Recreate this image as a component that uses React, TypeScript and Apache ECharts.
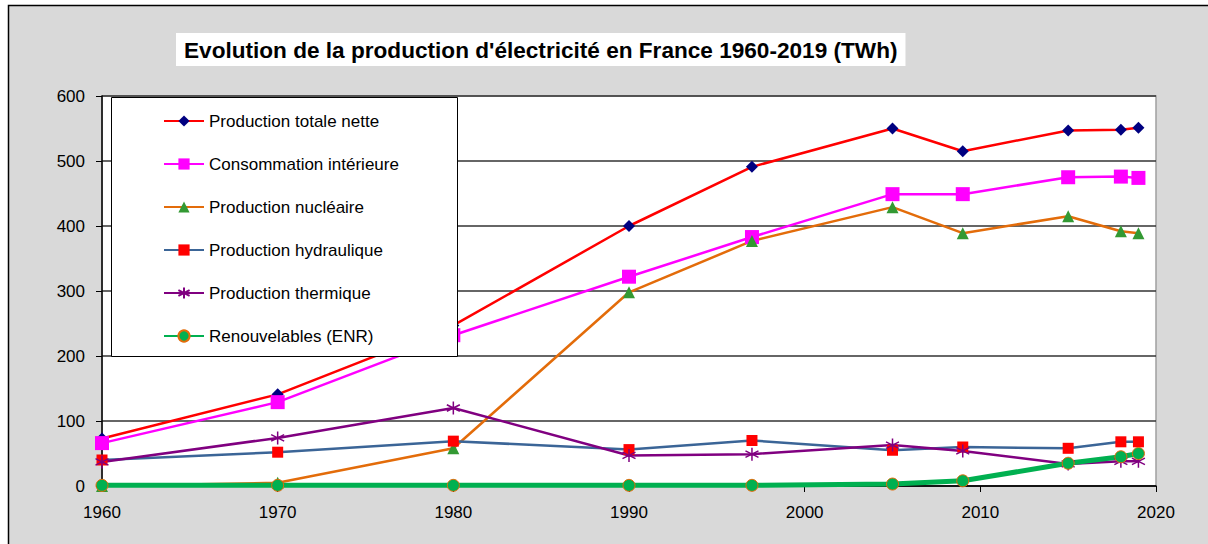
import React, { useEffect, useRef } from "react";
import * as echarts from "echarts";

const years = [1960, 1970, 1980, 1990, 1997, 2005, 2009, 2015, 2018, 2019];
const totale = [73, 141, 247, 400, 491, 550, 515, 547, 548, 551];
const consommation = [66, 129, 232, 322, 383, 449, 449, 475, 476, 474];
const nucleaire = [0, 5, 58, 298, 377, 429, 389, 415, 392, 389];
const hydraulique = [40, 52, 69, 56, 70, 55, 60, 58, 68, 68];
const thermique = [37, 74, 120, 47, 49, 63, 54, 34, 38, 38];
const enr = [1, 1, 1, 1, 1, 3, 8, 35, 45, 50];

const seriesNames = [
  "Production totale nette",
  "Consommation intérieure",
  "Production nucléaire",
  "Production hydraulique",
  "Production thermique",
  "Renouvelables (ENR)",
];

const FONT = "'Liberation Sans', Arial, sans-serif";

function pairs(vals: number[]) {
  return years.map((y, i) => [y, vals[i]]);
}

export default function App() {
  const ref = useRef<HTMLDivElement>(null);
  useEffect(() => {
    if (!ref.current) return;
    const chart = echarts.init(ref.current, null, { renderer: "svg" });
    const star = "path://M10,0L10,20M1.3,5L18.7,15M1.3,15L18.7,5";
    chart.setOption({
      animation: false,
      backgroundColor: "#ffffff",
      textStyle: { fontFamily: FONT },
      title: {
        text: "Evolution de la production d'électricité en France 1960-2019 (TWh)",
        left: 176,
        top: 33,
        backgroundColor: "#ffffff",
        padding: [5, 8, 4, 8],
        z: 8,
        textStyle: { fontFamily: FONT, fontSize: 22.6, fontWeight: "bold", color: "#000", lineHeight: 24 },
      },
      graphic: [
        {
          type: "rect",
          z: -10,
          silent: true,
          shape: { x: 8.5, y: 5.5, width: 1400, height: 700 },
          style: { fill: "#d9d9d9", stroke: "#000", lineWidth: 1.5 },
        },
        {
          type: "rect",
          z: 10,
          silent: true,
          shape: { x: 111.5, y: 97.5, width: 346, height: 259 },
          style: { fill: "#ffffff", stroke: "#000", lineWidth: 1 },
        },
      ],
      legend: {
        orient: "vertical",
        left: 163,
        top: 111,
        padding: 0,
        z: 12,
        itemWidth: 40,
        itemHeight: 14,
        itemGap: 23,
        textStyle: { fontFamily: FONT, fontSize: 17, color: "#000", lineHeight: 20 },
        data: seriesNames,
      },
      grid: {
        left: 102,
        top: 96,
        right: 52,
        bottom: 58,
        show: true,
        backgroundColor: "#ffffff",
        borderColor: "#a0a0a0",
        borderWidth: 1.5,
      },
      xAxis: {
        type: "value",
        min: 1960,
        max: 2020,
        interval: 10,
        axisLine: { show: true, lineStyle: { color: "#000", width: 1.5 } },
        axisTick: { show: true, inside: false, length: 6, lineStyle: { color: "#000" } },
        splitLine: { show: false },
        axisLabel: {
          fontFamily: FONT,
          fontSize: 17,
          color: "#000",
          margin: 18,
          formatter: (v: number) => String(v),
        },
      },
      yAxis: {
        type: "value",
        min: 0,
        max: 600,
        interval: 100,
        axisLine: { show: true, lineStyle: { color: "#000", width: 1.5 } },
        axisTick: { show: true, inside: false, length: 6, lineStyle: { color: "#000" } },
        splitLine: { show: true, lineStyle: { color: "#333", width: 1.5 } },
        axisLabel: { fontFamily: FONT, fontSize: 17, color: "#000", margin: 17 },
      },
      series: [
        {
          name: seriesNames[0],
          type: "line",
          data: pairs(totale),
          symbol: "diamond",
          symbolSize: 12,
          lineStyle: { color: "#ff0000", width: 2.5 },
          itemStyle: { color: "#000080" },
        },
        {
          name: seriesNames[1],
          type: "line",
          data: pairs(consommation),
          symbol: "rect",
          symbolSize: 14,
          lineStyle: { color: "#ff00ff", width: 2.5 },
          itemStyle: { color: "#ff00ff" },
        },
        {
          name: seriesNames[2],
          type: "line",
          data: pairs(nucleaire),
          symbol: "triangle",
          symbolSize: 12,
          lineStyle: { color: "#e36c0a", width: 2.5 },
          itemStyle: { color: "#339933" },
        },
        {
          name: seriesNames[3],
          type: "line",
          data: pairs(hydraulique),
          symbol: "rect",
          symbolSize: 11,
          lineStyle: { color: "#3b6597", width: 2.5 },
          itemStyle: { color: "#ff0000" },
        },
        {
          name: seriesNames[4],
          type: "line",
          data: pairs(thermique),
          symbol: star,
          symbolSize: 13,
          lineStyle: { color: "#800080", width: 2.5 },
          itemStyle: { color: "rgba(0,0,0,0)", borderColor: "#800080", borderWidth: 1.5 },
        },
        {
          name: seriesNames[5],
          type: "line",
          data: pairs(enr),
          symbol: "circle",
          symbolSize: 12,
          lineStyle: { color: "#00b050", width: 5 },
          itemStyle: { color: "#00b050", borderColor: "#e36c0a", borderWidth: 1 },
        },
      ],
    });
    return () => chart.dispose();
  }, []);
  return (
    <div
      ref={ref}
      style={{ position: "absolute", left: 0, top: 0, width: 1208, height: 544 }}
    />
  );
}
